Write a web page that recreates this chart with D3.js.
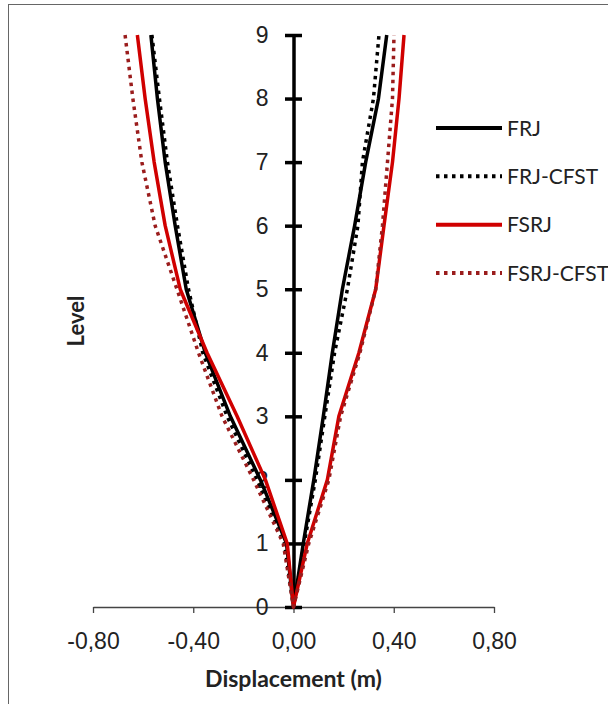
<!DOCTYPE html>
<html>
<head>
<meta charset="utf-8">
<script src="https://cdn.jsdelivr.net/npm/d3@7"></script>
<style>
  body { margin: 0; background: #fff; }
  svg { display: block; font-family: Lato, "Open Sans", sans-serif; }
</style>
</head>
<body>
<div id="chart"></div>
<script>
//Declarations
var levels = [0, 1, 2, 3, 4, 5, 6, 7, 8, 9];
var seriesNames = ["FRJ", "FRJ-CFST", "FSRJ", "FSRJ-CFST"];

// displacement envelopes (m), one value per level
var frjMin   = [0, -0.028, -0.132, -0.252, -0.352, -0.428, -0.472, -0.512, -0.543, -0.569];
var frjMax   = [0,  0.039,  0.081,  0.119,  0.155,  0.195,  0.244,  0.288,  0.339,  0.372];
var frjcMin  = [0, -0.036, -0.145, -0.265, -0.362, -0.419, -0.463, -0.503, -0.535, -0.565];
var frjcMax  = [0,  0.043,  0.087,  0.125,  0.164,  0.215,  0.257,  0.275,  0.319,  0.341];
var fsrjMin  = [0, -0.025, -0.112, -0.225, -0.345, -0.452, -0.512, -0.556, -0.592, -0.623];
var fsrjMax  = [0,  0.055,  0.135,  0.181,  0.261,  0.328,  0.361,  0.395,  0.421,  0.441];
var fsrjcMin = [0, -0.041, -0.159, -0.285, -0.379, -0.465, -0.552, -0.605, -0.641, -0.672];
var fsrjcMax = [0,  0.061,  0.141,  0.188,  0.265,  0.328,  0.355,  0.375,  0.395,  0.401];

var xTicks = [-0.8, -0.4, 0, 0.4, 0.8];
var yTicks = [0, 1, 2, 3, 4, 5, 6, 7, 8, 9];

var seriesMin = [frjMin, frjcMin, fsrjMin, fsrjcMin];
var seriesMax = [frjMax, frjcMax, fsrjMax, fsrjcMax];
var colors = ["#000000", "#000000", "#d00000", "#9a1c1c"];
var dashes = [null, "3.5,4.5", null, "3.5,4.5"];

var width = 608, height = 704;
var svg, xScale, yScale;

function buildPoints (i){
	var pts = [];
	// left envelope from top down to the base, then right envelope back up
	for (var k = levels.length - 1; k >= 0; k--) {
		pts.push({x: seriesMin[i][k], y: levels[k]});
	}
	for (var k = 1; k < levels.length; k++) {
		pts.push({x: seriesMax[i][k], y: levels[k]});
	}
	return pts;
}

function fmt (d){
	return (d < 0 ? "-" : "") + Math.abs(d).toFixed(2).replace(".", ",");
}

function init (){
	svg = d3.select("#chart")
	.append("svg")
	.attr("width", width)
	.attr("height", height);

	svg.append("rect")
	.attr("width", width)
	.attr("height", height)
	.attr("fill", "#fff");

	// outer frame (runs off the right and bottom edge)
	svg.append("rect")
	.attr("x", 8.5)
	.attr("y", 4.5)
	.attr("width", width + 10)
	.attr("height", height + 10)
	.attr("fill", "none")
	.attr("stroke", "#666")
	.attr("stroke-width", 1);

	xScale = d3.scaleLinear().domain([-0.8, 0.8]).range([93, 494]);
	yScale = d3.scaleLinear().domain([0, 9]).range([607, 35]);

	// Step 1: x axis
	var xAxis = d3.axisBottom(xScale)
	.tickValues(xTicks)
	.tickSize(6)
	.tickSizeOuter(0)
	.tickFormat(fmt);

	var gx = svg.append("g")
	.attr("class", "x axis")
	.attr("transform", "translate(0," + yScale(0) + ")")
	.call(xAxis);

	gx.select(".domain").attr("stroke", "#444").attr("stroke-width", 1.3);
	gx.selectAll(".tick line").attr("stroke", "#444").attr("stroke-width", 1.3);
	gx.selectAll(".tick text")
	.attr("y", 42)
	.attr("dy", null)
	.attr("fill", "#222")
	.style("font-size", "23px");

	svg.append("text")
	.attr("x", xScale(0))
	.attr("y", 687)
	.attr("text-anchor", "middle")
	.style("font-size", "23px")
	.style("font-weight", "bold")
	.attr("fill", "#222")
	.text("Displacement (m)");

	// Step 2: y axis sits at zero displacement
	var yAxis = d3.axisLeft(yScale)
	.tickValues(yTicks)
	.tickSizeOuter(0)
	.tickFormat(d3.format("d"));

	var gy = svg.append("g")
	.attr("class", "y axis")
	.attr("transform", "translate(" + xScale(0) + ",0)")
	.call(yAxis);

	gy.select(".domain").attr("stroke", "#000").attr("stroke-width", 3.5);
	gy.selectAll(".tick line")
	.attr("x1", -8.5)
	.attr("x2", 8.5)
	.attr("stroke", "#000")
	.attr("stroke-width", 3.5);
	gy.selectAll(".tick text")
	.attr("x", -25)
	.attr("fill", "#222")
	.style("font-size", "23px");

	svg.append("text")
	.attr("transform", "translate(84,321) rotate(-90)")
	.attr("text-anchor", "middle")
	.style("font-size", "22px")
	.style("font-weight", "bold")
	.attr("fill", "#222")
	.text("Level");

	// Step 3: the four series
	var line = d3.line()
	.x(function (d){ return xScale(d.x); })
	.y(function (d){ return yScale(d.y); });

	svg.append("g")
	.attr("id", "series")
	.selectAll("path")
	.data(seriesNames)
	.enter()
	.append("path")
	.attr("d", function (d, i){ return line(buildPoints(i)); })
	.attr("fill", "none")
	.attr("stroke", function (d, i){ return colors[i]; })
	.attr("stroke-width", 3.5)
	.attr("stroke-linejoin", "round")
	.attr("stroke-dasharray", function (d, i){ return dashes[i]; });

	// Step 4: legend
	var legendY = d3.scalePoint().domain(seriesNames).range([128, 273]);
	var legend = svg.append("g").attr("class", "legend");

	legend.selectAll("line")
	.data(seriesNames)
	.enter()
	.append("line")
	.attr("x1", 436)
	.attr("x2", 502)
	.attr("y1", function (d){ return legendY(d); })
	.attr("y2", function (d){ return legendY(d); })
	.attr("stroke", function (d, i){ return colors[i]; })
	.attr("stroke-width", 4)
	.attr("stroke-dasharray", function (d, i){ return dashes[i]; });

	legend.selectAll("text")
	.data(seriesNames)
	.enter()
	.append("text")
	.attr("x", 507)
	.attr("y", function (d){ return legendY(d); })
	.attr("dy", "0.36em")
	.style("font-size", "21px")
	.attr("fill", "#222")
	.text(function (d){ return d; });
}

init();
</script>
</body>
</html>
